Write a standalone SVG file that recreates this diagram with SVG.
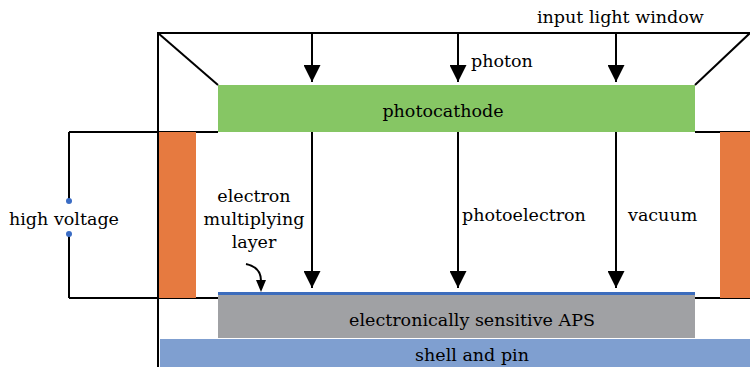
<svg xmlns="http://www.w3.org/2000/svg" width="750" height="369" viewBox="0 0 750 369">
<defs>
<style>
.ln{stroke:#000;stroke-width:2;fill:none}
.t{font-family:"DejaVu Serif","Liberation Serif",serif;font-size:17.5px;fill:#000}
.c{text-anchor:middle}
</style>
<marker id="ah" viewBox="0 0 10 10" refX="10" refY="5" markerWidth="17" markerHeight="17" markerUnits="userSpaceOnUse" orient="auto">
<path d="M0,0 L10,5 L0,10 Z" fill="#000"/>
</marker>
</defs>
<rect width="750" height="369" fill="#fff"/>
<g id="frame">
<path class="ln" d="M750,33 H158 V367"/>
<path class="ln" d="M158,33 L218,85"/>
<path class="ln" d="M695,85 L750,33"/>
<path class="ln" d="M69,132 H218 M69,298 H218 M69,132 V201 M69,234 V298 M695,132 H750 M695,298 H750"/>
</g>
<g id="photocathode">
<rect x="218" y="85" width="477" height="47" fill="#86c664"/>
<text class="t c" x="443" y="117">photocathode</text>
</g>
<g id="insulator-left"><rect x="159" y="132" width="37" height="166" fill="#e67a40"/></g>
<g id="insulator-right"><rect x="720" y="132" width="30" height="166" fill="#e67a40"/></g>
<g id="aps">
<rect x="218" y="295" width="477" height="43" fill="#a0a1a4"/>
<rect x="218" y="292" width="477" height="3" fill="#3c6cbc"/>
<text class="t c" x="472" y="326">electronically sensitive APS</text>
</g>
<g id="shell">
<rect x="160" y="339" width="590" height="28" fill="#7f9fd0"/>
<text class="t c" x="472" y="361">shell and pin</text>
</g>
<g id="terminals">
<circle cx="69" cy="201" r="3" fill="#3a6cc4"/>
<circle cx="69" cy="234" r="3" fill="#3a6cc4"/>
</g>
<g id="connectors">
<path class="ln" d="M312,34 V82" marker-end="url(#ah)"/>
<path class="ln" d="M458,34 V82" marker-end="url(#ah)"/>
<path class="ln" d="M616,34 V82" marker-end="url(#ah)"/>
<path class="ln" d="M312,132 V288" marker-end="url(#ah)"/>
<path class="ln" d="M458,132 V288" marker-end="url(#ah)"/>
<path class="ln" d="M616,132 V288" marker-end="url(#ah)"/>
<path class="ln" d="M246,264 Q261,267 261,281" stroke-width="1.8"/>
<path d="M256,280 L266,280 L261,292 Z" fill="#000"/>
</g>
<g id="labels">
<text class="t" x="537" y="23">input light window</text>
<text class="t" x="471" y="67">photon</text>
<text class="t" x="9" y="225">high voltage</text>
<text class="t c" x="254" y="202">electron</text>
<text class="t c" x="254" y="225">multiplying</text>
<text class="t c" x="254" y="248">layer</text>
<text class="t" x="462" y="221">photoelectron</text>
<text class="t" x="628" y="221">vacuum</text>
</g>
</svg>
